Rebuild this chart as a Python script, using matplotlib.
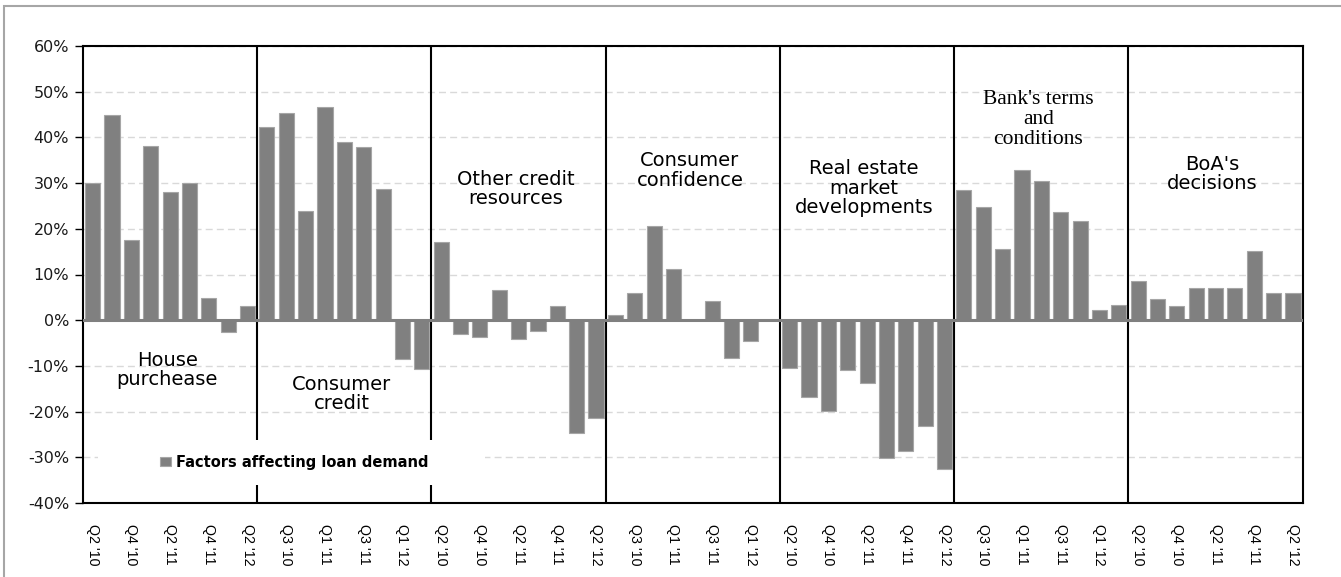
import matplotlib
matplotlib.use("Agg")
import matplotlib.pyplot as plt
from matplotlib.patches import Rectangle
from matplotlib.ticker import FuncFormatter, MultipleLocator
import numpy as np

# Quarters surveyed for each factor
quarters = ["Q2 '10", "Q3 '10", "Q4 '10", "Q1 '11", "Q2 '11",
            "Q3 '11", "Q4 '11", "Q1 '12", "Q2 '12"]

# Factor groups (label text as shown inside each panel)
groups = ["House\npurchease", "Consumer\ncredit", "Other credit\nresources",
          "Consumer\nconfidence", "Real estate\nmarket\ndevelopments",
          "Bank's terms\nand\nconditions", "BoA's\ndecisions"]

# Net percentage of banks, per factor and quarter
house_purchase = [30.0, 45.0, 17.5, 38.2, 28.0, 30.0, 4.8, -2.5, 3.2]
consumer_credit = [42.2, 45.3, 24.0, 46.6, 39.0, 37.8, 28.8, -8.5, -10.6]
other_credit = [17.1, -3.1, -3.6, 6.6, -4.1, -2.3, 3.0, -24.7, -21.3]
consumer_confidence = [1.1, 5.9, 20.7, 11.2, 0.0, 4.3, -8.2, -4.6, 0.0]
real_estate = [-10.4, -16.9, -19.8, -10.9, -13.8, -30.1, -28.6, -23.1, -32.5]
bank_terms = [28.4, 24.7, 15.6, 32.9, 30.5, 23.7, 21.6, 2.2, 3.3]
boa_decisions = [8.5, 4.6, 3.1, 7.0, 7.0, 7.0, 15.1, 5.9, 5.9]

series = [house_purchase, consumer_credit, other_credit, consumer_confidence,
          real_estate, bank_terms, boa_decisions]

values = np.concatenate([np.asarray(s, dtype=float) for s in series])
labels = quarters * len(series)
n_q = len(quarters)
x = np.arange(len(values))

fig = plt.figure(figsize=(13.41, 5.77), dpi=100)
ax = fig.add_axes([83 / 1341, 1 - 503 / 577, (1302.7 - 83) / 1341, (503 - 46) / 577])

# outer frame of the figure
fig.add_artist(Rectangle((4 / 1341, -0.05), 1.2, 0.05 + 1 - 6 / 577,
                         transform=fig.transFigure, fill=False,
                         edgecolor="#a6a6a6", lw=1.5, zorder=0))

ax.bar(x, values, width=0.78, color="#808080", edgecolor="#a6a6a6",
       linewidth=0.8, zorder=3, label="Factors affecting loan demand")

ax.set_xlim(-0.5, len(values) - 0.5)
ax.set_ylim(-40, 60)
ax.yaxis.set_major_locator(MultipleLocator(10))
ax.yaxis.set_major_formatter(FuncFormatter(lambda v, p: f"{v:.0f}%"))

ax.yaxis.grid(True, color="#d9d9d9", linestyle=(0, (5, 3)), linewidth=1.0, zorder=0)
ax.set_axisbelow(True)
ax.axhline(0, color="#808080", lw=2.2, zorder=4)

# separators between the factor groups
for g in range(1, len(series)):
    ax.axvline(g * n_q - 0.5, color="black", lw=1.5, zorder=2)

for s in ax.spines.values():
    s.set_color("black")
    s.set_linewidth(1.5)

ax.set_xticks(x[::2])
ax.set_xticklabels(labels[::2], rotation=270, ha="center", va="top",
                   fontsize=10.3, family="Liberation Sans")
ax.tick_params(axis="x", length=0, pad=15)
ax.tick_params(axis="y", length=6, width=1, direction="out", pad=4,
               labelsize=11.5, labelcolor="#1a1a1a")
for t in ax.get_yticklabels():
    t.set_family("DejaVu Sans")

# group captions
label_y = [-10.9, -16.2, 28.7, 32.8, 28.9, 44.0, 32.0]
for g, (name, ly) in enumerate(zip(groups, label_y)):
    cx = g * n_q + (n_q - 1) / 2 - 0.15
    if g == 5:
        ax.text(cx, ly, name, ha="center", va="center", fontsize=15.5,
                family="Liberation Serif", linespacing=1.07, zorder=5)
    else:
        ax.text(cx, ly, name, ha="center", va="center", fontsize=14,
                family="DejaVu Sans", linespacing=1.03, zorder=5)

# white panel behind the legend
ax.add_patch(Rectangle((15 / 1219.7, 18 / 457), (485 - 98) / 1219.7, 45 / 457,
                       transform=ax.transAxes, facecolor="white",
                       edgecolor="none", zorder=6))
leg = ax.legend(loc="center left", bbox_to_anchor=((160 - 83) / 1219.7, (503 - 462) / 457),
                frameon=False, borderpad=0, borderaxespad=0,
                handlelength=0.75, handleheight=0.62, handletextpad=0.35,
                prop={"family": "DejaVu Sans", "weight": "bold", "size": 10.5})
leg.set_zorder(7)

fig.savefig("out.png", dpi=100)
